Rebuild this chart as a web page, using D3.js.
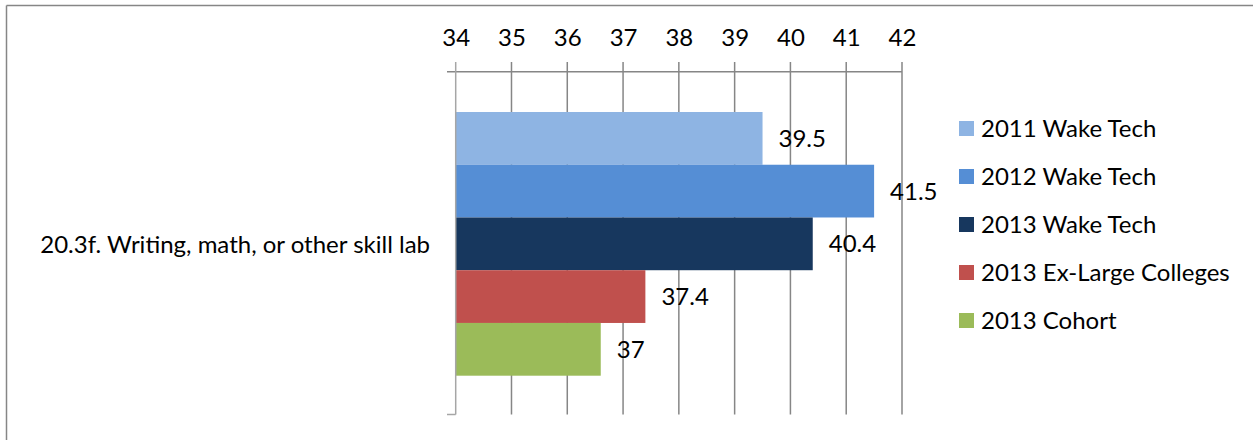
<!DOCTYPE html>
<html>
<head>
<meta charset="utf-8">
<script src="https://cdn.jsdelivr.net/npm/d3@7"></script>
<style>
  html, body { margin: 0; padding: 0; background: #fff; }
  svg { display: block; }
  text { font-family: Lato, "Open Sans", sans-serif; fill: #000; }
</style>
</head>
<body>
<svg id="chart" width="1253" height="440"></svg>
<script>
const category = "20.3f. Writing, math, or other skill lab";
const seriesNames = ["2011 Wake Tech", "2012 Wake Tech", "2013 Wake Tech", "2013 Ex-Large Colleges", "2013 Cohort"];
const seriesValues = [39.5, 41.5, 40.4, 37.4, 36.6];
const valueLabels = ["39.5", "41.5", "40.4", "37.4", "37"];
const seriesColors = ["#8EB4E3", "#558ED5", "#17375E", "#C0504D", "#9BBB59"];
const tickValues = [34, 35, 36, 37, 38, 39, 40, 41, 42];

const svg = d3.select("#chart");
const FS = 24;

// outer frame (top and left visible)
svg.append("line").attr("x1", 6.5).attr("x2", 1253).attr("y1", 5.5).attr("y2", 5.5)
  .attr("stroke", "#868686").attr("stroke-width", 1.5);
svg.append("line").attr("x1", 6.5).attr("x2", 6.5).attr("y1", 5.5).attr("y2", 440)
  .attr("stroke", "#868686").attr("stroke-width", 1.5);

const x = d3.scaleLinear().domain([34, 42]).range([455.7, 902]);
const plotTop = 62, plotBottom = 414.5, axisY = 71.7;
const y = d3.scaleBand().domain(seriesNames).range([112, 375.7]).padding(0);

// gridlines
svg.append("g").selectAll("line").data(tickValues.slice(1)).join("line")
  .attr("x1", d => x(d)).attr("x2", d => x(d))
  .attr("y1", plotTop).attr("y2", plotBottom)
  .attr("stroke", "#868686").attr("stroke-width", 1.5);

// value axis at top
const xAxis = d3.axisTop(x).tickValues(tickValues).tickSize(0).tickPadding(0).tickFormat(d3.format("d"));
const gx = svg.append("g").attr("transform", `translate(0,${axisY})`).call(xAxis);
gx.select(".domain").remove();
gx.selectAll("text").attr("y", 38 - axisY).attr("dy", "0.35em")
  .style("font-size", FS + "px").style("font-family", "Lato, 'Open Sans', sans-serif").attr("fill", "#000");
svg.append("line").attr("x1", 447).attr("x2", x(42)).attr("y1", axisY).attr("y2", axisY)
  .attr("stroke", "#868686").attr("stroke-width", 1.5);

// bars
svg.append("g").selectAll("rect").data(seriesNames).join("rect")
  .attr("x", x(34))
  .attr("y", d => y(d))
  .attr("width", (d, i) => x(seriesValues[i]) - x(34))
  .attr("height", y.bandwidth())
  .attr("fill", (d, i) => seriesColors[i]);

// category axis line (left)
svg.append("line").attr("x1", x(34)).attr("x2", x(34)).attr("y1", plotTop).attr("y2", plotBottom)
  .attr("stroke", "#a6a6a6").attr("stroke-width", 1.5);
svg.append("line").attr("x1", 447).attr("x2", x(34)).attr("y1", plotBottom).attr("y2", plotBottom)
  .attr("stroke", "#a6a6a6").attr("stroke-width", 1.5);

// value labels
svg.append("g").selectAll("text").data(seriesNames).join("text")
  .attr("x", (d, i) => x(seriesValues[i]) + 16)
  .attr("y", d => y(d) + y.bandwidth() / 2)
  .attr("dy", "0.35em")
  .style("font-size", FS + "px")
  .text((d, i) => valueLabels[i]);

// category label
svg.append("text").attr("x", 430).attr("y", 245).attr("dy", "0.35em")
  .attr("text-anchor", "end").style("font-size", FS + "px").text(category);

// legend
const legend = svg.append("g").selectAll("g").data(seriesNames).join("g")
  .attr("transform", (d, i) => `translate(959, ${128.5 + i * 48})`);
legend.append("rect").attr("x", 0).attr("y", -7.5).attr("width", 15).attr("height", 15)
  .attr("fill", (d, i) => seriesColors[i]);
legend.append("text").attr("x", 22).attr("y", 0).attr("dy", "0.35em")
  .style("font-size", FS + "px").text(d => d);
</script>
</body>
</html>
